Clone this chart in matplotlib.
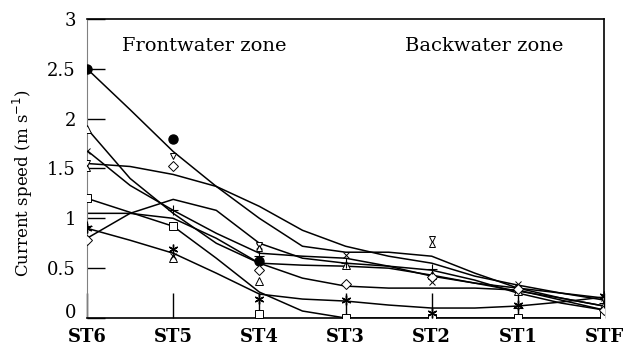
import numpy as np
import matplotlib
matplotlib.use('Agg')
import matplotlib.pyplot as plt

stations = ['ST6', 'ST5', 'ST4', 'ST3', 'ST2', 'ST1', 'STF']
nan = np.nan

# measured points (m/s) at each station
circle = [2.50, 1.80, 0.57, nan, nan, nan, nan]
tri_up = [1.90, 0.60, 0.37, 0.53, 0.43, 0.27, 0.13]
cross = [1.68, 0.62, 0.72, 0.63, 0.36, 0.34, 0.20]
tri_dn = [1.55, 1.63, 0.73, nan, 0.79, 0.30, 0.18]
tri_dn2 = [1.50, nan, 0.70, nan, 0.74, nan, nan]
square = [1.20, 0.92, 0.04, 0.00, 0.00, 0.00, 0.02]
star = [0.90, 0.69, 0.19, 0.18, 0.05, 0.13, 0.22]
diamond = [0.78, 1.52, 0.48, 0.34, 0.41, 0.29, 0.08]
plus = [0.92, 1.08, 0.62, 0.55, 0.49, 0.10, 0.15]

# smoothed fits, read at half-station steps
fx = np.arange(0, 6.01, 0.5)
fit_circle = [2.50, 2.09, 1.67, 1.32, 1.00, 0.72, 0.66, 0.66, 0.62, 0.45, 0.30, 0.20, 0.12]
fit_tri_dn = [1.55, 1.52, 1.44, 1.32, 1.12, 0.88, 0.72, 0.62, 0.55, 0.42, 0.33, 0.25, 0.18]
fit_cross = [1.68, 1.33, 1.08, 0.85, 0.65, 0.62, 0.60, 0.52, 0.42, 0.35, 0.30, 0.25, 0.20]
fit_tri_up = [1.90, 1.40, 1.05, 0.75, 0.55, 0.53, 0.52, 0.50, 0.43, 0.35, 0.27, 0.20, 0.12]
fit_plus = [0.80, 1.05, 1.19, 1.08, 0.75, 0.60, 0.55, 0.52, 0.48, 0.38, 0.25, 0.15, 0.08]
fit_diamond = [1.05, 1.05, 1.00, 0.80, 0.55, 0.40, 0.32, 0.30, 0.30, 0.30, 0.28, 0.18, 0.08]
fit_star = [0.90, 0.78, 0.65, 0.45, 0.24, 0.19, 0.17, 0.13, 0.10, 0.10, 0.12, 0.16, 0.21]
fit_square = [1.20, 1.06, 0.92, 0.60, 0.26, 0.07, 0.00, 0.00, 0.00, 0.00, 0.00, 0.00, 0.00]

plt.rcParams['font.family'] = ['DejaVu Serif']
fig, ax = plt.subplots(figsize=(6.26, 3.51), dpi=100)
fig.subplots_adjust(left=0.139, right=0.965, top=0.946, bottom=0.094)

x = np.arange(len(stations))
for f in [fit_circle, fit_tri_up, fit_cross, fit_tri_dn, fit_square,
          fit_star, fit_diamond, fit_plus]:
    ax.plot(fx, f, color='black', lw=1.1, zorder=2)

mk = dict(color='black', ls='none', zorder=3)
ax.plot(x, circle, marker='o', ms=6.5, **mk)
ax.plot(x, tri_up, marker='^', ms=6, mfc='white', mew=0.7, **mk)
ax.plot(x, cross, marker='x', ms=5, mew=0.7, **mk)
ax.plot(x, tri_dn, marker='v', ms=5, mfc='white', mew=0.7, **mk)
ax.plot(x, tri_dn2, marker='^', ms=5, mfc='white', mew=0.7, **mk)
ax.plot(x, square, marker='s', ms=6, mfc='white', mew=0.7, **mk)
ax.plot(x, star, marker=(6, 2, 0), ms=7, mew=1.0, **mk)
ax.plot(x, diamond, marker='D', ms=5, mfc='white', mew=0.7, **mk)
ax.plot(x, plus, marker='+', ms=7, mew=0.8, **mk)

ax.set_xlim(0, 6)
ax.set_ylim(0, 3)
ax.set_xticks(x)
ax.set_xticklabels(stations, fontsize=13, fontweight='bold')
ax.set_yticks(np.arange(0, 3.01, 0.5))
ax.set_yticklabels(['0', '0.5', '1', '1.5', '2', '2.5', '3'], fontsize=13)
ax.get_yticklabels()[0].set_verticalalignment('baseline')
ax.tick_params(axis='y', direction='in', length=13, width=1, pad=8)
ax.tick_params(axis='x', direction='in', length=18, width=1, pad=7)
ax.spines['left'].set_color('0.5')
for s in ['top', 'right', 'bottom']:
    ax.spines[s].set_linewidth(1.2)
ax.set_ylabel('Current speed (m s$^{-1}$)', fontsize=12)
ax.yaxis.set_label_coords(-0.1, 0.45)

ax.text(0.41, 2.68, 'Frontwater zone', fontsize=14)
ax.text(3.69, 2.68, 'Backwater zone', fontsize=14)

fig.savefig('out.png', dpi=100)
